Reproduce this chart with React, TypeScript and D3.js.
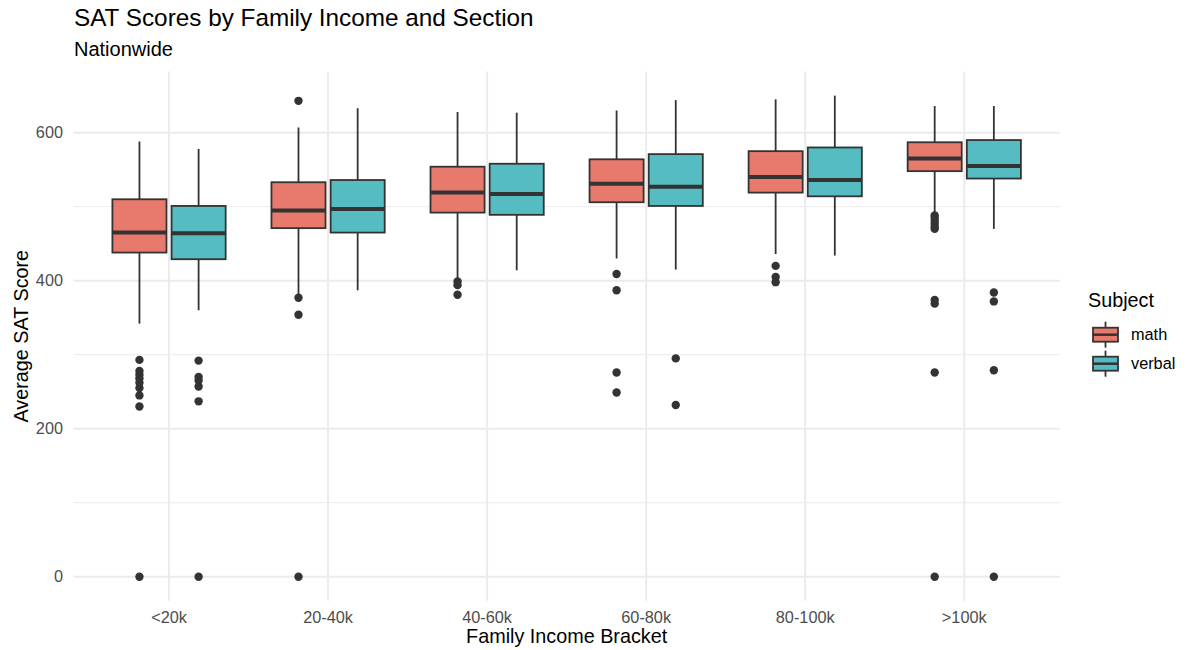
import React from "react";
import * as d3 from "d3";

const categories = ["<20k", "20-40k", "40-60k", "60-80k", "80-100k", ">100k"];
const subjects = ["math", "verbal"];
const subjectColors = ["#E8796D", "#55BCC2"];

const mathLow = [342, 381, 403, 430, 436, 491];
const mathQ1 = [438, 471, 492, 506, 519, 548];
const mathMed = [465, 495, 519, 531, 540, 565];
const mathQ3 = [510, 533, 554, 564, 575, 587];
const mathHigh = [588, 607, 628, 630, 645, 636];
const mathOutliers = [
  [293, 278, 273, 268, 262, 255, 245, 230, 0],
  [643, 377, 354, 0],
  [399, 394, 381],
  [409, 387, 276, 249],
  [420, 405, 398],
  [488, 485, 481, 477, 473, 470, 374, 369, 276, 0],
];

const verbalLow = [360, 387, 414, 415, 434, 470];
const verbalQ1 = [429, 465, 489, 501, 514, 538];
const verbalMed = [464, 497, 517, 527, 536, 555];
const verbalQ3 = [501, 536, 558, 571, 580, 590];
const verbalHigh = [578, 633, 627, 644, 650, 636];
const verbalOutliers = [
  [292, 270, 265, 257, 237, 0],
  [],
  [],
  [295, 232],
  [],
  [384, 372, 279, 0],
];

const yMajorTicks = [0, 200, 400, 600];
const yMinorTicks = [100, 300, 500];

const W = 1190;
const H = 650;
const panel = { left: 73.6, right: 1059.7, top: 71.6, bottom: 600.8 };
const FONT = "'Liberation Sans', Arial, Helvetica, sans-serif";

type Box = { low: number; q1: number; med: number; q3: number; high: number; out: number[] };

export default function App() {
  const x = d3.scalePoint<string>().domain(categories).range([panel.left, panel.right]).padding(0.6);
  const step = x.step();
  const y = d3.scaleLinear().domain([-32.5, 682.5]).range([panel.bottom, panel.top]);

  const series: Box[][] = [
    categories.map((_, i) => ({ low: mathLow[i], q1: mathQ1[i], med: mathMed[i], q3: mathQ3[i], high: mathHigh[i], out: mathOutliers[i] })),
    categories.map((_, i) => ({ low: verbalLow[i], q1: verbalQ1[i], med: verbalMed[i], q3: verbalQ3[i], high: verbalHigh[i], out: verbalOutliers[i] })),
  ];
  const offsets = [-0.186 * step, 0.186 * step];
  const halfW = 0.17 * step;
  const stroke = "#333333";

  return (
    <svg width={W} height={H} style={{ position: "fixed", left: 0, top: 0, background: "#fff" }} fontFamily={FONT}>
      <rect width={W} height={H} fill="#fff" />
      {/* grid */}
      {yMinorTicks.map((t) => (
        <line key={"mi" + t} x1={panel.left} x2={panel.right} y1={y(t)} y2={y(t)} stroke="#EBEBEB" strokeWidth={1} />
      ))}
      {yMajorTicks.map((t) => (
        <line key={"ma" + t} x1={panel.left} x2={panel.right} y1={y(t)} y2={y(t)} stroke="#EBEBEB" strokeWidth={2} />
      ))}
      {categories.map((c) => (
        <line key={"v" + c} x1={x(c)} x2={x(c)} y1={panel.top} y2={panel.bottom} stroke="#EBEBEB" strokeWidth={2} />
      ))}
      {/* boxes */}
      {series.map((s, si) =>
        s.map((b, i) => {
          const cx = (x(categories[i]) as number) + offsets[si];
          return (
            <g key={si + "-" + i}>
              <line x1={cx} x2={cx} y1={y(b.high)} y2={y(b.q3)} stroke={stroke} strokeWidth={1.8} />
              <line x1={cx} x2={cx} y1={y(b.q1)} y2={y(b.low)} stroke={stroke} strokeWidth={1.8} />
              <rect x={cx - halfW} y={y(b.q3)} width={2 * halfW} height={y(b.q1) - y(b.q3)} fill={subjectColors[si]} stroke={stroke} strokeWidth={1.8} />
              <line x1={cx - halfW} x2={cx + halfW} y1={y(b.med)} y2={y(b.med)} stroke={stroke} strokeWidth={4} />
              {b.out.map((o, k) => (
                <circle key={k} cx={cx} cy={y(o)} r={4.2} fill={stroke} />
              ))}
            </g>
          );
        })
      )}
      {/* y ticks */}
      {yMajorTicks.map((t) => (
        <text key={"yt" + t} x={63} y={y(t)} dy="0.35em" textAnchor="end" fontSize={16.3} fill="#4D4D4D">
          {t}
        </text>
      ))}
      {/* x ticks */}
      {categories.map((c) => (
        <text key={"xt" + c} x={x(c)} y={623} textAnchor="middle" fontSize={16.3} fill="#4D4D4D">
          {c}
        </text>
      ))}
      {/* axis titles */}
      <text x={(panel.left + panel.right) / 2} y={643} textAnchor="middle" fontSize={19.8} fill="#000">
        Family Income Bracket
      </text>
      <text transform={`translate(28,${(panel.top + panel.bottom) / 2}) rotate(-90)`} textAnchor="middle" fontSize={19.8} fill="#000">
        Average SAT Score
      </text>
      {/* title */}
      <text x={74} y={26} fontSize={24.3} fill="#000">
        SAT Scores by Family Income and Section
      </text>
      <text x={74} y={56} fontSize={20} fill="#000">
        Nationwide
      </text>
      {/* legend */}
      <text x={1088} y={307} fontSize={19.8} fill="#000">
        Subject
      </text>
      {subjects.map((s, i) => {
        const cy = 334.7 + i * 29;
        const kx = 1093;
        const kw = 25;
        return (
          <g key={s}>
            <line x1={kx + kw / 2} x2={kx + kw / 2} y1={cy - 13} y2={cy + 13} stroke={stroke} strokeWidth={1.8} />
            <rect x={kx} y={cy - 7} width={kw} height={14} fill={subjectColors[i]} stroke={stroke} strokeWidth={1.8} />
            <line x1={kx} x2={kx + kw} y1={cy} y2={cy} stroke={stroke} strokeWidth={2.5} />
            <text x={1131} y={cy} dy="0.35em" fontSize={16.3} fill="#000">
              {s}
            </text>
          </g>
        );
      })}
    </svg>
  );
}
